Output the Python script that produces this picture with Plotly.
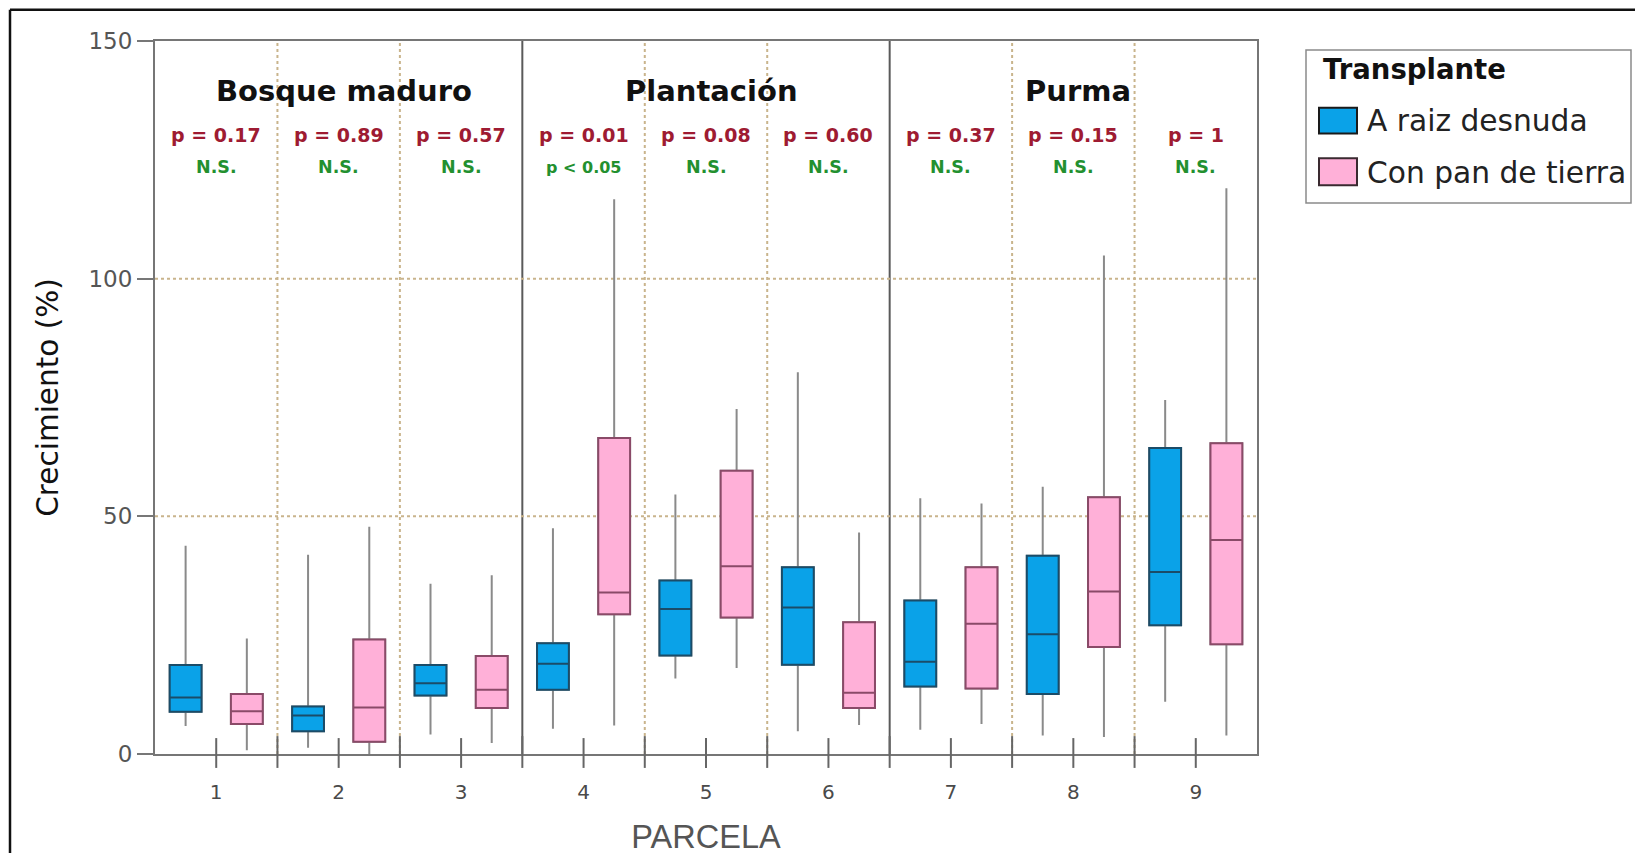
import plotly.graph_objects as go

# ---------------- data ----------------
parcela = [1, 2, 3, 4, 5, 6, 7, 8, 9]
group_names = ["Bosque maduro", "Plantación", "Purma"]
group_members = [[1, 2, 3], [4, 5, 6], [7, 8, 9]]

series_names = ["A raiz desnuda", "Con pan de tierra"]
legend_title = "Transplante"

# A raiz desnuda
raiz_upper = [43.8, 41.9, 35.8, 47.5, 54.6, 80.3, 53.8, 56.2, 74.5]
raiz_q3 = [18.7, 10.0, 18.7, 23.3, 36.5, 39.3, 32.3, 41.7, 64.4]
raiz_median = [11.9, 8.1, 14.9, 19.0, 30.5, 30.8, 19.4, 25.2, 38.3]
raiz_q1 = [8.9, 4.8, 12.3, 13.5, 20.7, 18.8, 14.2, 12.6, 27.1]
raiz_lower = [5.9, 1.3, 4.1, 5.3, 15.9, 4.8, 5.1, 3.9, 11.0]

# Con pan de tierra
pan_upper = [24.3, 47.8, 37.6, 116.7, 72.6, 46.6, 52.7, 104.9, 119.0]
pan_q3 = [12.6, 24.1, 20.6, 66.5, 59.6, 27.7, 39.3, 54.0, 65.4]
pan_median = [9.0, 9.8, 13.5, 34.0, 39.5, 12.9, 27.4, 34.2, 45.0]
pan_q1 = [6.3, 2.6, 9.7, 29.4, 28.7, 9.7, 13.8, 22.5, 23.1]
pan_lower = [0.8, 0.0, 2.3, 6.0, 18.1, 6.1, 6.3, 3.6, 3.9]

p_values = ["p = 0.17", "p = 0.89", "p = 0.57", "p = 0.01", "p = 0.08",
            "p = 0.60", "p = 0.37", "p = 0.15", "p = 1"]
significance = ["N.S.", "N.S.", "N.S.", "p < 0.05", "N.S.",
                "N.S.", "N.S.", "N.S.", "N.S."]

y_ticks = [0, 50, 100, 150]

# ---------------- layout geometry ----------------
W, H = 1643, 853
OX, OY = 7, 7                          # page offset of the figure
PL, PR, PT, PB = 154, 1256, 40, 757    # plot area in page pixels
L, R, T, B = PL - OX, PR - OX, PT - OY, PB - OY
PW, PH = R - L, B - T


def px(x):
    """page x pixel -> paper coordinate"""
    return (x - OX - L) / PW


def py(y):
    """page y pixel -> paper coordinate"""
    return (B - (y - OY)) / PH


BLUE_FILL, BLUE_LINE = "#0AA2E8", "#1B4C68"
PINK_FILL, PINK_LINE = "#FFB0D8", "#8A4A68"
WHISKER = "#8A8A8A"
FRAME = "#767676"
GRID = "#C9B48C"
PRED = "#9E1B32"
SGREEN = "#23902F"
BOLD_FONT = "DejaVu Sans"

fig = go.Figure()

series = [
    ("raiz", raiz_lower, raiz_q1, raiz_median, raiz_q3, raiz_upper, BLUE_FILL, BLUE_LINE),
    ("pan", pan_lower, pan_q1, pan_median, pan_q3, pan_upper, PINK_FILL, PINK_LINE),
]

for key, lo, q1, med, q3, up, fill, line in series:
    # whiskers (gray)
    fig.add_trace(go.Box(
        x=parcela, lowerfence=lo, q1=q1, median=med, q3=q3, upperfence=up,
        offsetgroup=key, fillcolor="rgba(0,0,0,0)",
        line=dict(color=WHISKER, width=2), whiskerwidth=0,
        showlegend=False, hoverinfo="skip"))
    # coloured boxes
    fig.add_trace(go.Box(
        x=parcela, lowerfence=q1, q1=q1, median=med, q3=q3, upperfence=q3,
        offsetgroup=key, fillcolor=fill, name=key,
        line=dict(color=line, width=2), whiskerwidth=0,
        showlegend=False))

shapes = []
# vertical separators
for i in range(len(parcela) - 1):
    xs = (parcela[i] + parcela[i + 1]) / 2
    is_group_edge = any(parcela[i] == g[-1] for g in group_members)
    if is_group_edge:
        shapes.append(dict(type="line", xref="x", yref="paper", x0=xs, x1=xs,
                           y0=0, y1=1, line=dict(color="#5A5A5A", width=2), layer="below"))
    else:
        shapes.append(dict(type="line", xref="x", yref="paper", x0=xs, x1=xs,
                           y0=0, y1=1, line=dict(color=GRID, width=2, dash="dot"), layer="below"))
    # crossing tick at separator
    shapes.append(dict(type="line", xref="x", yref="paper", x0=xs, x1=xs,
                       y0=py(771), y1=py(739), line=dict(color="#666666", width=2)))
# crossing ticks at category centers
for c in parcela:
    shapes.append(dict(type="line", xref="x", yref="paper", x0=c, x1=c,
                       y0=py(771), y1=py(741), line=dict(color="#666666", width=2)))
# horizontal dotted grid
for v in y_ticks[1:-1]:
    shapes.append(dict(type="line", xref="paper", yref="y", x0=0, x1=1, y0=v, y1=v,
                       line=dict(color=GRID, width=2, dash="dot"), layer="below"))
# outer image border (top and left)
shapes.append(dict(type="line", xref="paper", yref="paper", x0=px(9), x1=px(1660),
                   y0=py(8.5), y1=py(8.5), line=dict(color="#111111", width=2.5)))
shapes.append(dict(type="line", xref="paper", yref="paper", x0=px(9), x1=px(9),
                   y0=py(8.5), y1=py(880), line=dict(color="#111111", width=2.5)))
# legend frame and swatches
shapes.append(dict(type="rect", xref="paper", yref="paper", x0=px(1305), x1=px(1630),
                   y0=py(203), y1=py(49), line=dict(color="#8A8A8A", width=1.5),
                   fillcolor="white"))
shapes.append(dict(type="rect", xref="paper", yref="paper", x0=px(1318), x1=px(1356),
                   y0=py(133), y1=py(107), line=dict(color="#1A1A1A", width=2),
                   fillcolor=BLUE_FILL))
shapes.append(dict(type="rect", xref="paper", yref="paper", x0=px(1318), x1=px(1356),
                   y0=py(185), y1=py(158), line=dict(color="#3A2A30", width=2),
                   fillcolor=PINK_FILL))

annotations = []
for name, members in zip(group_names, group_members):
    cx = sum(members) / len(members)
    annotations.append(dict(x=cx, y=139.5, xref="x", yref="y", text=f"<b>{name}</b>",
                            showarrow=False, xshift=5,
                            font=dict(family=BOLD_FONT, size=29, color="#111111")))
for c, p, s in zip(parcela, p_values, significance):
    annotations.append(dict(x=c, y=130.3, xref="x", yref="y", text=f"<b>{p}</b>",
                            showarrow=False,
                            font=dict(family=BOLD_FONT, size=19, color=PRED)))
    annotations.append(dict(x=c, y=123.4, xref="x", yref="y", text=f"<b>{s}</b>",
                            showarrow=False,
                            font=dict(family=BOLD_FONT, size=16 if s == "p < 0.05" else 17.5,
                                      color=SGREEN)))
# legend texts
annotations.append(dict(x=px(1320), y=py(68), xref="paper", yref="paper",
                        text=f"<b>{legend_title}</b>", showarrow=False,
                        xanchor="left", yanchor="middle",
                        font=dict(family=BOLD_FONT, size=27.5, color="#111111")))
annotations.append(dict(x=px(1364), y=py(120), xref="paper", yref="paper",
                        text=series_names[0], showarrow=False,
                        xanchor="left", yanchor="middle",
                        font=dict(family="DejaVu Sans", size=29.7, color="#222222")))
annotations.append(dict(x=px(1364), y=py(172), xref="paper", yref="paper",
                        text=series_names[1], showarrow=False,
                        xanchor="left", yanchor="middle",
                        font=dict(family="DejaVu Sans", size=29.7, color="#222222")))

fig.update_layout(
    width=W, height=H,
    margin=dict(l=L, r=W - R, t=T, b=H - B, pad=0),
    paper_bgcolor="white", plot_bgcolor="white",
    boxmode="group", boxgap=0, boxgroupgap=0.48,
    showlegend=False,
    shapes=shapes, annotations=annotations,
    xaxis=dict(range=[parcela[0] - 0.5, parcela[-1] + 0.5], tickvals=parcela,
               ticktext=[str(c) for c in parcela], ticks="", showgrid=False,
               ticklabelstandoff=19,
               zeroline=False, showline=True, mirror=True, linecolor=FRAME, linewidth=2,
               tickfont=dict(family="DejaVu Sans", size=20, color="#4A4A4A"),
               title=dict(text="PARCELA", standoff=22,
                          font=dict(family="Liberation Sans", size=32.5, color="#555555"))),
    yaxis=dict(range=[0, 150], tickvals=y_ticks, ticks="outside", ticklen=16,
               tickcolor="#777777", tickwidth=1.5, showgrid=False, zeroline=False,
               showline=True, mirror=True, linecolor=FRAME, linewidth=2,
               tickfont=dict(family="DejaVu Sans", size=23, color="#555555"),
               title=dict(text="Crecimiento (%)", standoff=21,
                          font=dict(family="DejaVu Sans", size=29.5, color="#111111"))),
)

fig.write_html("out.html")
